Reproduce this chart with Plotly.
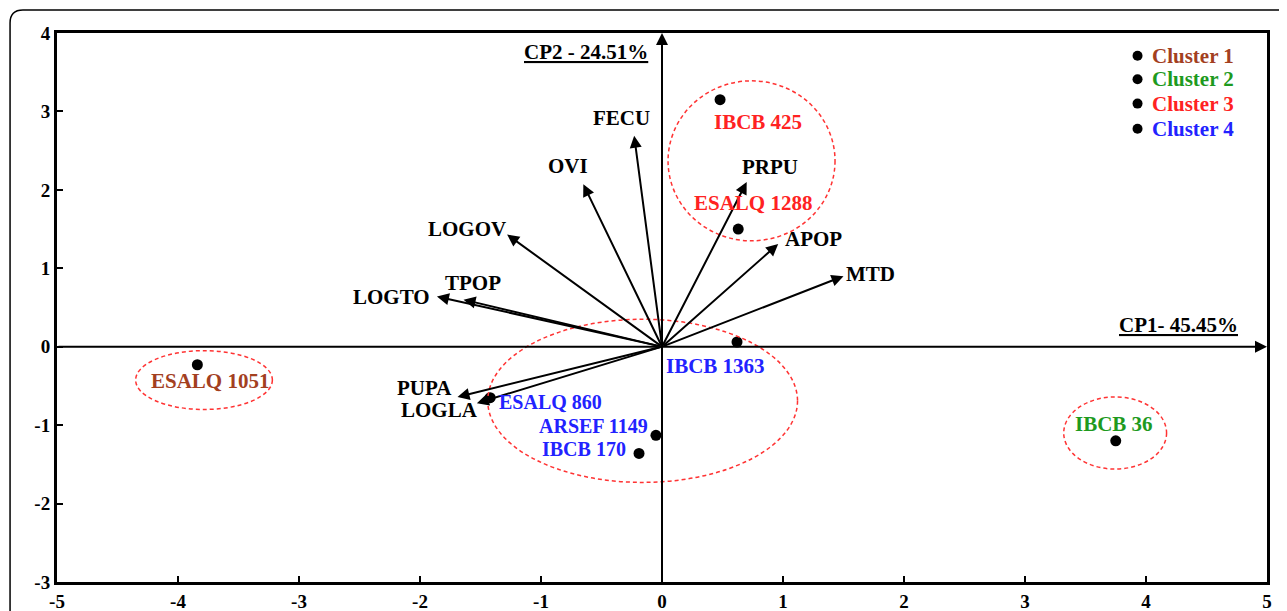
import plotly.graph_objects as go

# ---------------- data ----------------
strain_names = ["ESALQ 1051", "IBCB 36", "IBCB 425", "ESALQ 1288",
                "IBCB 1363", "ESALQ 860", "ARSEF 1149", "IBCB 170"]
strain_x = [-3.84, 3.75, 0.48, 0.63, 0.62, -1.42, -0.05, -0.19]
strain_y = [-0.23, -1.20, 3.15, 1.50, 0.06, -0.65, -1.13, -1.36]
strain_cluster = [1, 2, 3, 3, 4, 4, 4, 4]

var_names = ["FECU", "OVI", "LOGOV", "TPOP", "LOGTO", "PUPA", "LOGLA", "PRPU", "APOP", "MTD"]
var_x = [-0.23, -0.65, -1.28, -1.64, -1.86, -1.69, -1.53, 0.70, 0.96, 1.50]
var_y = [2.69, 2.07, 1.43, 0.60, 0.64, -0.64, -0.72, 2.10, 1.31, 0.90]

cluster_names = ["Cluster 1", "Cluster 2", "Cluster 3", "Cluster 4"]
x_ticks = [-5, -4, -3, -2, -1, 0, 1, 2, 3, 4, 5]
y_ticks = [-3, -2, -1, 0, 1, 2, 3, 4]
cp1_label = "CP1- 45.45%"
cp2_label = "CP2 - 24.51%"

# ---------------- styling / placement ----------------
cluster_colors = {1: "#A3401F", 2: "#1E9A1E", 3: "#FF2222", 4: "#2222FF"}
FONT = "Liberation Serif"
FS = 21

# pixel offsets for strain labels (dx, dy, xanchor, font size)
strain_lbl = [(13, -16, "center", 21), (-2, 17, "center", 21), (38, -22, "center", 21),
              (15, 26, "center", 21), (-22, -24, "center", 21), (7, -4, "left", 20),
              (-6, 9, "right", 20), (-11, 4, "right", 20)]
# pixel offsets for variable labels
var_lbl = [(-13, 18), (-15, 18), (-40, 6), (9, 17), (-45, 0),
           (-33, 9), (-37, -7), (23, 15), (35, 5), (27, 2)]

# ellipses (x0, x1, y0, y1)
ellipses = [(-4.35, -3.22, -0.80, -0.05),
            (0.05, 1.43, 1.35, 3.39),
            (-1.44, 1.12, -1.73, 0.35),
            (3.32, 4.17, -1.56, -0.64)]

fig = go.Figure()

annotations = []
shapes = []

# main axes lines with arrows
annotations.append(dict(x=0, y=4, ax=0, ay=-3, xref="x", yref="y", axref="x", ayref="y",
                        showarrow=True, arrowhead=2, arrowsize=1.2, arrowwidth=2,
                        arrowcolor="black", text=""))
annotations.append(dict(x=5, y=0, ax=-5, ay=0, xref="x", yref="y", axref="x", ayref="y",
                        showarrow=True, arrowhead=2, arrowsize=1.2, arrowwidth=2,
                        arrowcolor="black", text=""))

# variable arrows
for name, vx, vy, (dx, dy) in zip(var_names, var_x, var_y, var_lbl):
    annotations.append(dict(x=vx, y=vy, ax=0, ay=0, xref="x", yref="y", axref="x", ayref="y",
                            showarrow=True, arrowhead=2, arrowsize=1.2, arrowwidth=2,
                            arrowcolor="black", text=""))
    annotations.append(dict(x=vx, y=vy, xref="x", yref="y", showarrow=False,
                            text="<b>%s</b>" % name, xshift=dx, yshift=dy,
                            font=dict(family=FONT, size=FS, color="black")))

# ellipses
for (x0, x1, y0, y1) in ellipses:
    shapes.append(dict(type="circle", xref="x", yref="y", x0=x0, x1=x1, y0=y0, y1=y1,
                       line=dict(color="#FF3333", width=1.5, dash="4px,3px")))

# strain points
fig.add_trace(go.Scatter(x=strain_x, y=strain_y, mode="markers",
                         marker=dict(color="black", size=11), showlegend=False,
                         hoverinfo="skip"))
for name, sx, sy, c, (dx, dy, xa, fs) in zip(strain_names, strain_x, strain_y, strain_cluster, strain_lbl):
    annotations.append(dict(x=sx, y=sy, xref="x", yref="y", showarrow=False,
                            text="<b>%s</b>" % name, xshift=dx, yshift=dy, xanchor=xa,
                            font=dict(family=FONT, size=fs, color=cluster_colors[c])))

# legend (drawn manually)
leg_x = 3.93
leg_y = [3.71, 3.41, 3.10, 2.78]
fig.add_trace(go.Scatter(x=[leg_x] * 4, y=leg_y, mode="markers",
                         marker=dict(color="black", size=10), showlegend=False,
                         hoverinfo="skip"))
for i, (nm, ly) in enumerate(zip(cluster_names, leg_y)):
    annotations.append(dict(x=leg_x, y=ly, xref="x", yref="y", showarrow=False,
                            text="<b>%s</b>" % nm, xanchor="left", xshift=12,
                            font=dict(family=FONT, size=FS, color=cluster_colors[i + 1])))

# axis titles (underlined)
annotations.append(dict(x=-0.1, y=3.76, xref="x", yref="y", showarrow=False,
                        text="<b><u>%s</u></b>" % cp2_label, xanchor="right",
                        font=dict(family=FONT, size=FS, color="black")))
annotations.append(dict(x=4.78, y=0.28, xref="x", yref="y", showarrow=False,
                        text="<b><u>%s</u></b>" % cp1_label, xanchor="right",
                        font=dict(family=FONT, size=FS, color="black")))

# outer rounded frame (top and left edges)
shapes.append(dict(type="path", xref="paper", yref="paper",
                   path="M -0.0388,-0.1 L -0.0388,1.0182 Q -0.0388,1.0419 -0.0281,1.0419 L 1.1,1.0419",
                   line=dict(color="black", width=1.5)))

fig.update_layout(
    width=1279, height=603,
    margin=dict(l=49, r=20, t=25, b=29, autoexpand=False),
    paper_bgcolor="white", plot_bgcolor="white",
    annotations=annotations, shapes=shapes,
    xaxis=dict(range=[-5, 5], tickvals=x_ticks, ticktext=["<b>%d</b>" % v for v in x_ticks],
               showgrid=False, zeroline=False, showline=True, mirror=True, automargin=False,
               linecolor="black", linewidth=3, ticks="inside", ticklen=6, tickwidth=2,
               tickcolor="black", tickfont=dict(family=FONT, size=19, color="black")),
    yaxis=dict(range=[-3, 4], tickvals=y_ticks, ticktext=["<b>%d</b>" % v for v in y_ticks],
               showgrid=False, zeroline=False, showline=True, mirror=True, automargin=False,
               linecolor="black", linewidth=3, ticks="inside", ticklen=6, tickwidth=2,
               tickcolor="black", tickfont=dict(family=FONT, size=19, color="black")),
)

fig.write_html("out.html")
